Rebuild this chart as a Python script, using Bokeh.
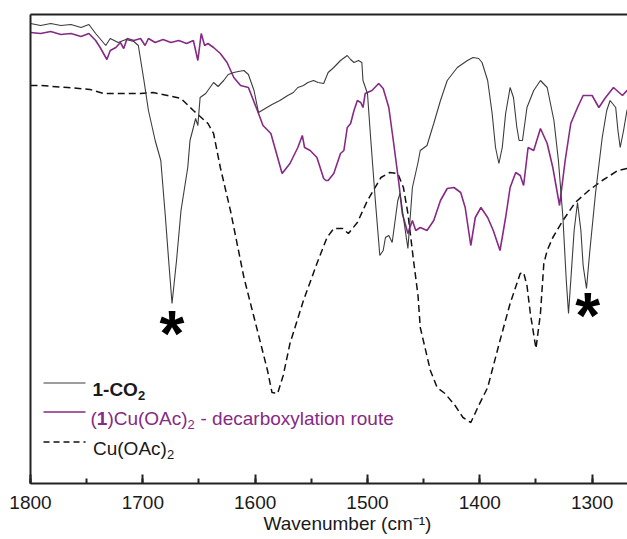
from bokeh.plotting import figure
from bokeh.models import Range1d, LinearAxis, SingleIntervalTicker, FixedTicker, Label, Arrow
from bokeh.embed import file_html
from bokeh.resources import INLINE

# ---- data: wavenumber (cm-1) and transmittance (arbitrary units) ----
wn_co2 = [1800, 1791, 1782, 1773, 1764, 1755, 1748, 1742, 1733, 1729, 1722, 1715, 1708, 1704,
          1699, 1695, 1689, 1684, 1680, 1677, 1674, 1670, 1666, 1660, 1658, 1655, 1653, 1651,
          1649, 1644, 1637, 1633, 1628, 1624, 1619, 1615, 1610, 1606, 1601, 1597, 1591, 1585,
          1578, 1571, 1566, 1562, 1557, 1553, 1548, 1544, 1539, 1535, 1530, 1524, 1518, 1515,
          1512, 1508, 1505, 1504, 1500, 1497, 1493, 1489, 1486, 1484, 1481, 1478, 1473, 1471,
          1468, 1464, 1460, 1455, 1453, 1447, 1441, 1435, 1429, 1420, 1411, 1406, 1401, 1398,
          1393, 1389, 1386, 1383, 1380, 1377, 1373, 1370, 1367, 1365, 1362, 1358, 1352, 1346,
          1340, 1334, 1330, 1326, 1323, 1321, 1319, 1316, 1313, 1310, 1308, 1305, 1302, 1297,
          1291, 1287, 1284, 1279, 1277, 1275, 1272, 1269, 1264]
t_co2 = [460, 458, 460, 458, 459, 456, 459, 450, 438, 445, 441, 444, 442, 438,
         403, 373, 343, 323, 268, 223, 180, 223, 273, 316, 343, 356, 365, 358,
         386, 390, 401, 397, 403, 409, 411, 412, 413, 409, 393, 371, 375, 379,
         383, 388, 391, 396, 398, 401, 403, 401, 400, 411, 416, 423, 428, 424,
         421, 423, 421, 403, 390, 343, 283, 228, 233, 246, 248, 241, 283, 290,
         266, 235, 296, 321, 333, 338, 360, 383, 403, 416, 423, 426, 425, 421,
         403, 370, 336, 320, 336, 370, 396, 386, 356, 343, 343, 376, 393, 403,
         396, 363, 323, 266, 203, 170, 203, 253, 281, 253, 218, 195, 233, 290,
         346, 373, 383, 376, 353, 336, 353, 373, 383]

wn_cu1 = [1800, 1791, 1782, 1773, 1764, 1755, 1748, 1742, 1738, 1732, 1729, 1724, 1720, 1717,
          1714, 1708, 1702, 1698, 1695, 1689, 1682, 1675, 1668, 1661, 1655, 1651, 1648, 1645,
          1642, 1637, 1631, 1625, 1619, 1613, 1606, 1598, 1593, 1586, 1580, 1576, 1569, 1562,
          1558, 1556, 1551, 1545, 1539, 1537, 1535, 1530, 1524, 1521, 1518, 1515, 1512, 1509,
          1506, 1504, 1502, 1496, 1490, 1486, 1481, 1477, 1472, 1469, 1464, 1460, 1457, 1453,
          1447, 1441, 1435, 1429, 1423, 1417, 1413, 1408, 1404, 1399, 1393, 1388, 1382, 1377,
          1373, 1368, 1364, 1361, 1357, 1352, 1346, 1340, 1335, 1329, 1324, 1319, 1313, 1308,
          1300, 1294, 1288, 1281, 1273, 1269, 1264]
t_cu1 = [451, 450, 452, 449, 450, 447, 450, 443, 436, 424, 433, 436, 441, 435,
         445, 443, 445, 438, 445, 441, 444, 441, 443, 440, 443, 423, 450, 438,
         440, 436, 430, 421, 406, 398, 396, 373, 358, 350, 326, 310, 320, 336,
         348, 336, 333, 326, 305, 303, 303, 310, 330, 333, 356, 360, 373, 383,
         381, 376, 390, 393, 400, 395, 376, 343, 300, 270, 250, 263, 253, 256,
         253, 263, 283, 295, 296, 291, 276, 238, 266, 276, 266, 253, 233, 266,
         296, 311, 308, 298, 336, 333, 355, 340, 316, 278, 323, 360, 376, 388,
         388, 376, 386, 396, 388, 393, 395]

wn_cuoac = [1800, 1791, 1767, 1747, 1735, 1702, 1691, 1678, 1666, 1655, 1642, 1637, 1631, 1622,
            1610, 1598, 1589, 1585, 1580, 1575, 1569, 1557, 1545, 1536, 1530, 1522, 1517, 1509,
            1500, 1488, 1480, 1473, 1468, 1464, 1459, 1455, 1453, 1444, 1438, 1431, 1422, 1415,
            1408, 1401, 1393, 1382, 1373, 1364, 1361, 1358, 1355, 1350, 1346, 1343, 1340, 1335,
            1326, 1315, 1303, 1291, 1277, 1269, 1264]
t_cuoac = [398, 398, 396, 394, 390, 390, 391, 388, 385, 373, 360, 350, 316, 273,
           206, 153, 113, 91, 90, 108, 140, 183, 220, 246, 255, 255, 250, 261,
           283, 306, 311, 310, 296, 270, 223, 188, 156, 113, 96, 90, 78, 66,
           61, 78, 96, 143, 180, 210, 211, 198, 170, 135, 170, 220, 233, 246,
           263, 281, 293, 303, 313, 315, 316]

peaks_marked = [1674, 1304]
x_ticks_interval = 100
x_label = "Wavenumber (cm\u207b\u00b9)"

FONT = "Liberation Sans"
PURPLE = "#862a86"
TXT = "#1a1a1a"

p = figure(width=627, height=539, output_backend="svg", toolbar_location=None,
           x_range=Range1d(1800, 1268.5), y_range=Range1d(0, 469),
           min_border_left=30, min_border_right=0, min_border_top=14, min_border_bottom=56)
p.outline_line_color = None
p.background_fill_color = "white"
p.border_fill_color = "white"
p.grid.visible = False

xa = p.xaxis[0]
xa.ticker = SingleIntervalTicker(interval=x_ticks_interval, num_minor_ticks=2)
# the original frame runs past the right edge, so its title sits right of centre:
# leading no-break spaces shift the centred title accordingly
xa.axis_label = "\u00a0" * 7 + x_label
xa.axis_label_text_font = FONT
xa.axis_label_text_font_size = "19px"
xa.axis_label_text_font_style = "normal"
xa.axis_label_text_color = TXT
xa.axis_label_standoff = 1
xa.major_label_text_font = FONT
xa.major_label_text_font_size = "19px"
xa.major_label_text_color = TXT
xa.major_label_standoff = 12
xa.axis_line_width = 2
xa.axis_line_color = "#222222"
xa.major_tick_in = 9
xa.major_tick_out = 0
xa.minor_tick_in = 5
xa.minor_tick_out = 0
xa.major_tick_line_width = 2
xa.minor_tick_line_width = 2
xa.major_tick_line_color = "#222222"
xa.minor_tick_line_color = "#222222"

ya = p.yaxis[0]
ya.ticker = FixedTicker(ticks=[])
ya.major_label_text_font_size = "0px"
ya.axis_line_width = 2
ya.axis_line_color = "#222222"
ya.major_tick_line_color = None
ya.minor_tick_line_color = None

top = LinearAxis(ticker=FixedTicker(ticks=[]), major_label_text_font_size="0px",
                 axis_line_width=2, axis_line_color="#222222",
                 major_tick_line_color=None, minor_tick_line_color=None)
p.add_layout(top, "above")

p.line(wn_cuoac, t_cuoac, line_color="#111111", line_width=1.5, line_dash="7 4")
p.line(wn_cu1, t_cu1, line_color=PURPLE, line_width=1.6)
p.line(wn_co2, t_co2, line_color="#3c3c3c", line_width=1.1)

# asterisks marking peaks
for wn, yb in zip(peaks_marked, [150, 168]):
    p.add_layout(Label(x=wn, y=yb, text="*", text_font=FONT, text_font_size="64px",
                       text_font_style="bold", text_color="black",
                       text_align="center", text_baseline="alphabetic"))

# legend (drawn by hand for mixed styles)
def seg(y, color, width, dash="solid"):
    p.add_layout(Arrow(x_start=13, y_start=y, x_end=55, y_end=y,
                       start_units="screen", end_units="screen", end=None,
                       line_color=color, line_width=width, line_dash=dash))

def lab(x, y, text, color=TXT, size="19px", style="normal"):
    p.add_layout(Label(x=x, y=y, x_units="screen", y_units="screen", text=text,
                       text_font=FONT, text_font_size=size, text_font_style=style,
                       text_color=color, text_align="left", text_baseline="alphabetic"))

seg(100.5, "#3c3c3c", 1.1)
lab(62, 94, "1-CO", style="bold")
lab(107.4, 88, "2", size="13px", style="bold")

seg(71.5, PURPLE, 1.6)
lab(60, 65, "(", color=PURPLE)
lab(66.3, 65, "1", color=PURPLE, style="bold")
lab(76.9, 65, ")Cu(OAc)", color=PURPLE)
lab(157.1, 59, "2", color=PURPLE, size="13px")
lab(170, 65, "- decarboxylation route", color=PURPLE)

seg(41.5, "#111111", 1.5, "6 4")
lab(62.5, 35, "Cu(OAc)")
lab(136.4, 29, "2", size="13px")

open("out.html", "w").write(file_html(p, INLINE))
